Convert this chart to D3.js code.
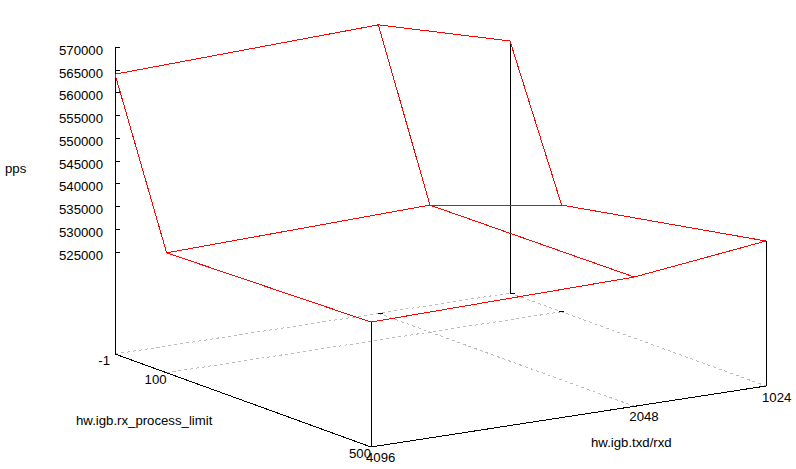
<!DOCTYPE html>
<html>
<head>
<meta charset="utf-8">
<script src="https://cdn.jsdelivr.net/npm/d3@7"></script>
<style>
html, body { margin: 0; background: #fff; }
svg { display: block; }
text { font-family: "Liberation Sans", Arial, sans-serif; font-size: 13.2px; fill: #000; }
path { shape-rendering: crispEdges; }
</style>
</head>
<body>
<svg id="plot" width="796" height="469"></svg>
<script>
const rxLimits = [-1, 100, 500];
const txdRxd = [4096, 2048, 1024];
const ppsTicks = [570000, 565000, 560000, 555000, 550000, 545000, 540000, 535000, 530000, 525000];
// one row per rx limit, in txdRxd order
const ppsAtMinusOne = [564100, 566000, 558000];
const ppsAt100 = [529000, 530550, 526100];
const ppsAt500 = [530100, 531060, 534500];
const ppsRows = [ppsAtMinusOne, ppsAt100, ppsAt500];

const svg = d3.select('#plot');

// gnuplot style oblique projection
const zFloor = 502678;
const rxX = d3.scaleLinear().domain([-1, 500]).range([0, 256]);
const rxY = d3.scaleLinear().domain([-1, 500]).range([0, 93]);
const txX = d3.scaleLinear().domain([4096, 1024]).range([0, 395]);
const txY = d3.scaleLinear().domain([4096, 1024]).range([0, -61]);
const zY = d3.scaleLinear().domain([zFloor, 570000]).range([0, 306.7]);

function project(rx, tx, z) {
    return [115 + rxX(rx) + txX(tx), 354 + rxY(rx) + txY(tx) - zY(z)];
}

const line = d3.line();

function draw(points, color, dash) {
    svg.append('path')
        .attr('d', line(points))
        .attr('fill', 'none')
        .attr('stroke', color)
        .attr('stroke-width', 1)
        .attr('stroke-dasharray', dash || null);
}

function label(text, x, y, anchor) {
    svg.append('text')
        .attr('x', x)
        .attr('y', y)
        .attr('text-anchor', anchor || 'start')
        .text(text);
}

const rxMin = rxLimits[0];
const rxMax = rxLimits[rxLimits.length - 1];
const txNear = txdRxd[0];
const txFar = txdRxd[txdRxd.length - 1];

// floor grid
rxLimits.slice(0, 2).forEach((rx) => {
    draw([project(rx, txNear, zFloor), project(rx, txFar, zFloor)], '#bbb', '3,3');
});
txdRxd.slice(1).forEach((tx) => {
    draw([project(rxMin, tx, zFloor), project(rxMax, tx, zFloor)], '#bbb', '3,3');
});

// floor border and verticals
draw([project(rxMin, txNear, zFloor), project(rxMax, txNear, zFloor), project(rxMax, txFar, zFloor)], '#000');
draw([project(rxMin, txNear, zFloor), project(rxMin, txNear, 570000)], '#000');
draw([project(rxMax, txNear, zFloor), project(rxMax, txNear, ppsAt500[0])], '#000');
draw([project(rxMax, txFar, zFloor), project(rxMax, txFar, ppsAt500[2])], '#000');
draw([project(rxMin, txFar, zFloor), project(rxMin, txFar, ppsAtMinusOne[2])], '#000');

// pps ticks
ppsTicks.forEach((z) => {
    const [x, y] = project(rxMin, txNear, z);
    draw([[x, y], [x + 5, y]], '#000');
    label(z, x - 12, y + 7.5, 'end');
});

// small floor ticks where the grid meets the back and side
txdRxd.slice(1).forEach((tx) => {
    const [x, y] = project(rxMin, tx, zFloor);
    draw([[x, y], [x + 5, y]], '#000');
});
{
    const [x, y] = project(rxLimits[1], txFar, zFloor);
    draw([[x - 3, y], [x + 2, y]], '#000');
}

// wireframe surface
ppsRows.forEach((row, i) => {
    draw(row.map((z, j) => project(rxLimits[i], txdRxd[j], z)), '#f00');
});
txdRxd.forEach((tx, j) => {
    draw(ppsRows.map((row, i) => project(rxLimits[i], tx, row[j])), '#f00');
});

// axis tick labels
rxLimits.forEach((rx, i) => {
    const [x, y] = project(rx, txNear, zFloor);
    label(rx, x + [-5, 0, 0][i], y + 11, 'end');
});
txdRxd.forEach((tx, i) => {
    const [x, y] = project(rxMax, tx, zFloor);
    label(tx, x + [-5, -5, -4][i], y + [15, 15, 16][i]);
});

label('pps', 5, 173);
label('hw.igb.rx_process_limit', 76, 425);
label('hw.igb.txd/rxd', 591, 447);
</script>
</body>
</html>
